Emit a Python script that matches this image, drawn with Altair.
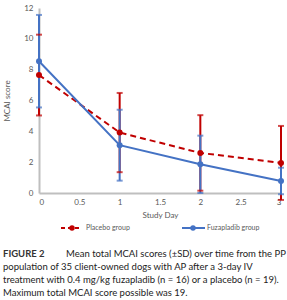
import altair as alt
import pandas as pd

# Study days and group summaries (mean ± SD of total MCAI score)
days = [0, 1, 2, 3]
placebo_mean = [7.65, 3.92, 2.6, 1.95]
placebo_sd = [2.62, 2.57, 2.45, 2.4]
fuza_mean = [8.55, 3.1, 1.86, 0.78]
fuza_sd = [3.0, 2.3, 1.86, 0.86]

groups = ["Placebo group", "Fuzapladib group"]
colors = ["#c00000", "#4472c4"]

caption_head = "FIGURE 2"
caption_lines = [
    "Mean total MCAI scores (±SD) over time from the PP",
    "population of 35 client-owned dogs with AP after a 3-day IV",
    "treatment with 0.4 mg/kg fuzapladib (n = 16) or a placebo (n = 19).",
    "Maximum total MCAI score possible was 19.",
]

rows = []
for g, means, sds in [(groups[0], placebo_mean, placebo_sd), (groups[1], fuza_mean, fuza_sd)]:
    for d, m, s in zip(days, means, sds):
        rows.append({"group": g, "day": d, "mean": m, "lo": m - s, "hi": m + s})
df = pd.DataFrame(rows)

W, H = 242, 185
FONT = "Lato"

x_scale = alt.Scale(domain=[0, 3], nice=False)
y_scale = alt.Scale(domain=[0, 12], nice=False)
x_axis = alt.Axis(values=[0, 0.5, 1, 1.5, 2, 2.5, 3], title="Study Day",
                  format="~g", labelOverlap=False,
                  ticks=False, grid=False, domainColor="#bfbfbf", domainWidth=2,
                  labelFont=FONT, labelFontSize=8, labelColor="#595959",
                  labelPadding=5, titleFont=FONT, titleFontSize=8,
                  titleFontWeight="normal", titleColor="#595959", titlePadding=5)
y_axis = alt.Axis(values=list(range(0, 13, 2)), title="MCAI score",
                  labelOverlap=False,
                  ticks=False, grid=False, domainColor="#bfbfbf", domainWidth=2,
                  labelFont=FONT, labelFontSize=8, labelColor="#595959",
                  labelPadding=6, titleFont=FONT, titleFontSize=8,
                  titleFontWeight="normal", titleColor="#595959", titlePadding=12)


def X():
    return alt.X("day:Q", scale=x_scale, axis=x_axis)


def Y(field):
    return alt.Y(f"{field}:Q", scale=y_scale, axis=y_axis, title="MCAI score")


color = alt.Color("group:N", scale=alt.Scale(domain=groups, range=colors), legend=None)

base = alt.Chart(df)

bars = base.mark_rule(strokeWidth=2).encode(
    x=X(), y=Y("lo"), y2="hi:Q", color=color)
caps_lo = base.mark_tick(orient="horizontal", size=6, thickness=2).encode(
    x=X(), y=Y("lo"), color=color)
caps_hi = base.mark_tick(orient="horizontal", size=6, thickness=2).encode(
    x=X(), y=Y("hi"), color=color)

placebo_line = base.transform_filter(alt.datum.group == groups[0]).mark_line(
    strokeWidth=2, strokeDash=[6, 4], color=colors[0]
).encode(x=X(), y=Y("mean"))
fuza_line = base.transform_filter(alt.datum.group == groups[1]).mark_line(
    strokeWidth=2, color=colors[1]
).encode(x=X(), y=Y("mean"))
points = base.mark_circle(size=36, opacity=1).encode(
    x=X(), y=Y("mean"), color=color)

# Legend row below the x-axis title
leg_y = 35 + H
legend_layers = [
    alt.Chart().mark_rule(color=colors[0], strokeWidth=2, strokeDash=[4, 3]).encode(
        x=alt.value(22), x2=alt.value(40), y=alt.value(leg_y)),
    alt.Chart().mark_circle(color=colors[0], size=30, opacity=1).encode(
        x=alt.value(33), y=alt.value(leg_y)),
    alt.Chart().mark_text(text=groups[0], align="left", baseline="middle",
                          font=FONT, fontSize=7, color="#595959").encode(
        x=alt.value(47), y=alt.value(leg_y)),
    alt.Chart().mark_rule(color=colors[1], strokeWidth=2).encode(
        x=alt.value(143), x2=alt.value(166), y=alt.value(leg_y)),
    alt.Chart().mark_circle(color=colors[1], size=30, opacity=1).encode(
        x=alt.value(154), y=alt.value(leg_y)),
    alt.Chart().mark_text(text=groups[1], align="left", baseline="middle",
                          font=FONT, fontSize=7, color="#595959").encode(
        x=alt.value(168), y=alt.value(leg_y)),
]

# Figure caption
cap_x = -36
cap_y0 = H + 61
cap_dy = 13
caption_layers = [
    alt.Chart().mark_text(text=caption_head, align="left", baseline="middle",
                          font=FONT, fontSize=9.5, fontWeight="bold",
                          color="#333333").encode(
        x=alt.value(cap_x), y=alt.value(cap_y0)),
    alt.Chart().mark_text(text=caption_lines[0], align="left", baseline="middle",
                          font=FONT, fontSize=9.5, color="#222222").encode(
        x=alt.value(cap_x + 63), y=alt.value(cap_y0)),
]
for i, line in enumerate(caption_lines[1:], start=1):
    caption_layers.append(
        alt.Chart().mark_text(text=line, align="left", baseline="middle",
                              font=FONT, fontSize=9.5, color="#222222").encode(
            x=alt.value(cap_x), y=alt.value(cap_y0 + cap_dy * i)))

chart = alt.layer(
    bars, caps_lo, caps_hi, placebo_line, fuza_line, points,
    *legend_layers, *caption_layers
).properties(
    width=W, height=H,
    autosize=alt.AutoSizeParams(type="none"),
    padding={"left": 39, "top": 8, "right": 6, "bottom": 107},
    background="white",
).configure_view(stroke=None)

chart.save("out.html", embed_options={"renderer": "svg", "actions": False})
